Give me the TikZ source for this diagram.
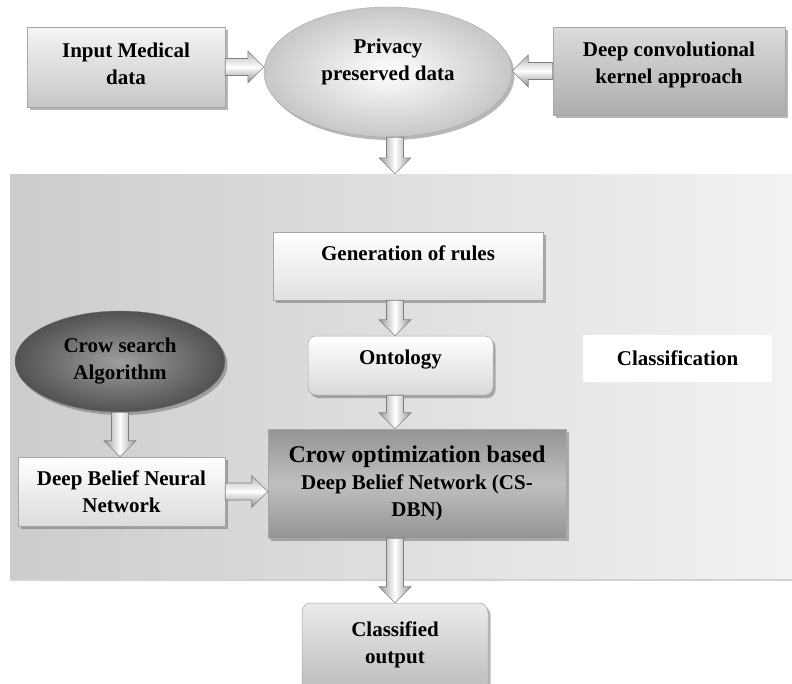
\documentclass[tikz,border=0pt]{standalone}
\usepackage{fontspec}
\setmainfont{Liberation Serif}
\usetikzlibrary{calc,shapes.geometric,shadows}
\tikzset{
  fnt/.style={font=\bfseries\fontsize{21}{27}\selectfont, inner sep=0pt, text=black},
  txt/.style={fnt, align=center},
  shad/.style={drop shadow={opacity=0.4, shadow xshift=2.5pt, shadow yshift=-3pt, fill=black!70}},
  sbox/.style={txt, rectangle, draw=black!35, line width=0.5pt, shad},
  tbox/.style={fnt, rectangle, draw=black!35, line width=0.5pt, shad},
  blk/.style={draw=black!50, line width=0.6pt, line join=miter, to path={
     ($(\tikztostart)!8.5pt!90:(\tikztotarget)$)
     -- ($(\tikztotarget)!16pt!(\tikztostart)!8.5pt!-90:(\tikztostart)$)
     -- ($(\tikztotarget)!16pt!(\tikztostart)!16pt!-90:(\tikztostart)$)
     -- (\tikztotarget)
     -- ($(\tikztotarget)!16pt!(\tikztostart)!16pt!90:(\tikztostart)$)
     -- ($(\tikztotarget)!16pt!(\tikztostart)!8.5pt!90:(\tikztostart)$)
     -- ($(\tikztostart)!8.5pt!-90:(\tikztotarget)$) -- cycle}},
  harr/.style={blk, top color=black!30, bottom color=black!45, middle color=white},
  varr/.style={blk, left color=black!40, right color=black!40, middle color=white},
}
\newcommand{\tl}[1]{\begin{tabular}{@{}c@{}}#1\end{tabular}}
\begin{document}
\begin{tikzpicture}[x=1pt,y=-1pt]
\fill[white] (0,0) rectangle (792,683);
\useasboundingbox (0,0) rectangle (792,683);

% panel
\node[rectangle, minimum width=782pt, minimum height=404pt, left color=black!20, right color=black!5,
      drop shadow={opacity=0.35, shadow xshift=0pt, shadow yshift=-3pt}] (panel) at (401,376) {};

% top row
\node[tbox, minimum width=198pt, minimum height=80pt, top color=black!4, bottom color=black!22, text height=20pt, text depth=13pt] (inp) at (126,67) {\tl{Input Medical\\data}};
\node[fnt, ellipse, draw=black!35, minimum width=248pt, minimum height=130pt, inner color=white, outer color=black!22, shad, text height=10pt, text depth=20pt] (priv) at (388,72) {\tl{Privacy\\preserved data}};
\node[tbox, minimum width=232pt, minimum height=88pt, top color=black!14, bottom color=black!32, text height=14pt, text depth=16pt] (dck) at (669,71) {\tl{Deep convolutional\\kernel approach}};

% inside panel
\node[sbox, minimum width=270pt, minimum height=68pt, top color=white, bottom color=black!12, text height=14pt, text depth=26pt] (gen) at (408,266) {Generation of rules};
\node[tbox, rounded corners=8pt, minimum width=185pt, minimum height=59pt, top color=white, bottom color=black!15, text height=14pt, text depth=17pt] (onto) at (400.5,365.5) {\tl{Ontology}};
\node[txt, rectangle, fill=white, minimum width=189pt, minimum height=47pt] (cls) at (677.5,358.5) {Classification};
\node[txt, ellipse, draw=black!55, minimum width=210pt, minimum height=101pt, inner color=black!38, outer color=black!68, shad] (crow) at (120,361.5) {Crow search\\Algorithm};
\node[sbox, minimum width=298pt, minimum height=109pt, top color=black!42, bottom color=black!42, middle color=black!25] (copt) at (417,483.5) {{\fontsize{24}{30}\selectfont Crow optimization based}\\Deep Belief Network (CS-\\DBN)};
\node[sbox, minimum width=207pt, minimum height=69pt, top color=white, bottom color=black!14] (dbnn) at (121.5,491.5) {Deep Belief Neural\\Network};

% output
\node[tbox, rounded corners=9pt, minimum width=186pt, minimum height=97pt, top color=black!8, bottom color=black!28, text height=13pt, text depth=17pt] (clsout) at (395,651.5) {\tl{Classified\\output}};

% connectors
\draw[harr] (inp.east) to (inp.east -| priv.west);
\draw[harr] (dck.west) to (dck.west -| priv.east);
\draw[varr] (priv.south -| clsout) to (panel.north -| clsout);
\draw[varr] (gen.south -| clsout) to (onto.north -| clsout);
\draw[varr] (onto.south -| clsout) to (copt.north -| clsout);
\draw[varr] (copt.south -| clsout) to (clsout.north);
\draw[varr] (crow.south) to (crow.south |- dbnn.north);
\draw[harr] (dbnn.east) to (dbnn.east -| copt.west);
\end{tikzpicture}
\end{document}
